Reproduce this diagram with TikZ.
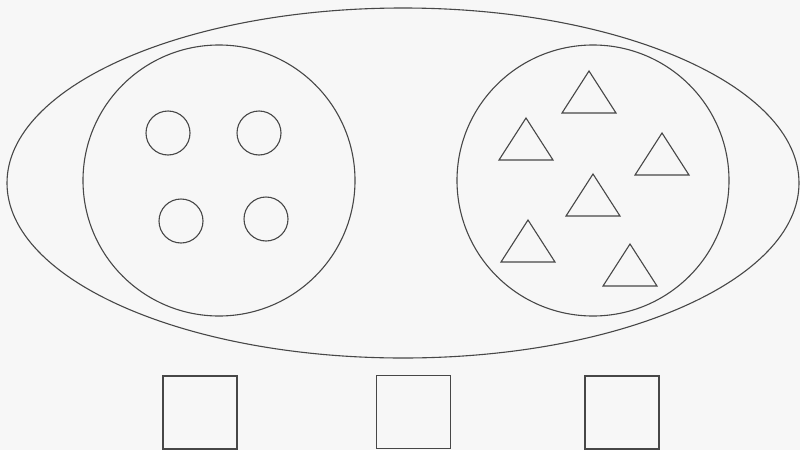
\documentclass[tikz,border=0pt]{standalone}
\usetikzlibrary{shapes.geometric}
\begin{document}
\begin{tikzpicture}[x=1pt,y=-1pt,
  ln/.style={draw=black!72,line width=1.1pt},
  oval/.style={ln,ellipse,inner sep=0pt},
  dot/.style={ln,circle,inner sep=0pt,minimum size=44pt},
  sq/.style={ln,rectangle,inner sep=0pt,minimum width=74pt,minimum height=73pt},
  tri/.style={ln,line join=miter}]
\useasboundingbox (0,0) rectangle (800,450);
\fill[black!3] (0,0) rectangle (800,450);
% outer ellipse
\node[oval,minimum width=792pt,minimum height=350pt] (outer) at (403,183) {};
% left set with circles
\node[oval,minimum width=272pt,minimum height=271pt] (left) at (219,180.5) {};
\node[dot] (c1) at (168,133) {};
\node[dot] (c2) at (259,133) {};
\node[dot] (c3) at (181,221) {};
\node[dot] (c4) at (266,219) {};
% right set with triangles
\node[oval,minimum width=272pt,minimum height=271pt] (right) at (593,180.5) {};
\coordinate (t1) at (589,113);
\coordinate (t2) at (526,160);
\coordinate (t3) at (662,175);
\coordinate (t4) at (593,216);
\coordinate (t5) at (528,262);
\coordinate (t6) at (630,286);
\foreach \t in {t1,t2,t3,t4,t5,t6}{
  \draw[tri] (\t) ++(-27,0) -- ++(27,-42) -- ++(27,42) -- cycle;
}
% squares
\node[sq] (s1) at (200,412.5) {};
\node[sq] (s2) at (413.5,412) {};
\node[sq] (s3) at (622,412.5) {};
\end{tikzpicture}
\end{document}
